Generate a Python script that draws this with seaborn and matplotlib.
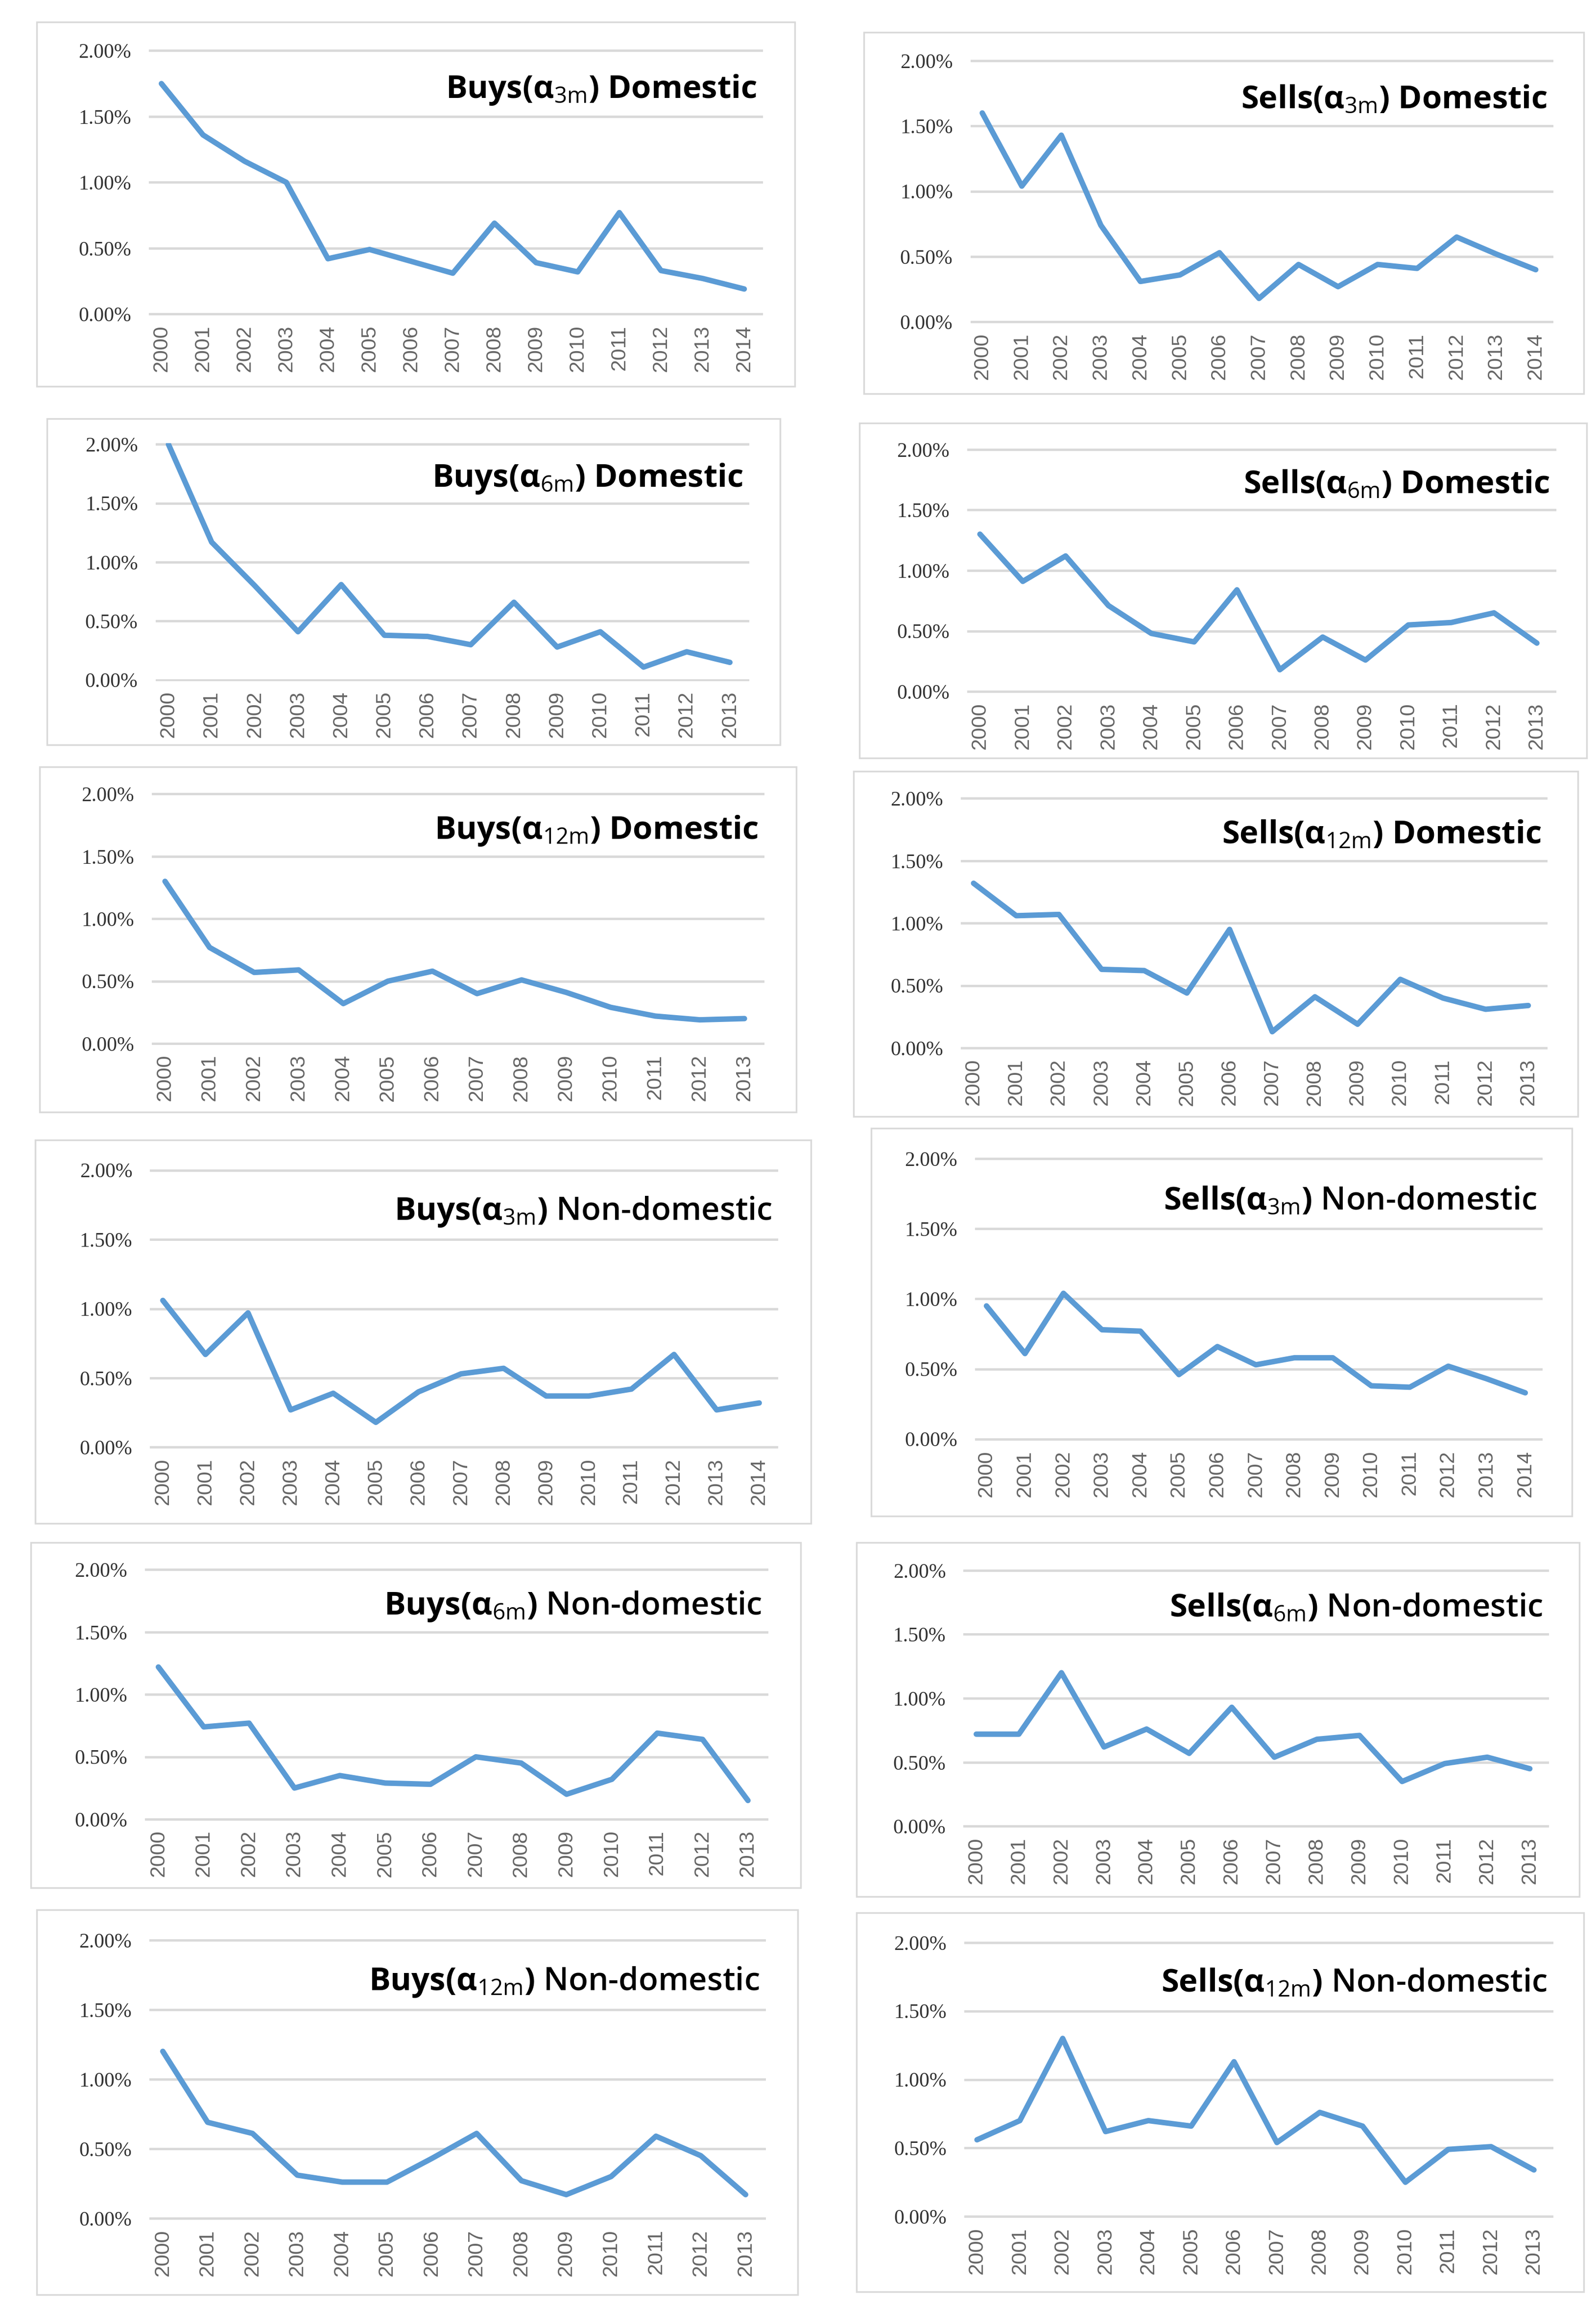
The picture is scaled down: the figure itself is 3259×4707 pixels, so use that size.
import matplotlib
matplotlib.use('Agg')
import matplotlib.pyplot as plt
from matplotlib.patches import Rectangle
from matplotlib.ticker import FuncFormatter
import seaborn as sns

# x categories
years_15 = ['2000', '2001', '2002', '2003', '2004', '2005', '2006', '2007',
            '2008', '2009', '2010', '2011', '2012', '2013', '2014']
years_14 = ['2000', '2001', '2002', '2003', '2004', '2005', '2006', '2007',
            '2008', '2009', '2010', '2011', '2012', '2013']

# series values (%)
buys_3m_dom = [1.75, 1.36, 1.16, 1.00, 0.42, 0.49, 0.40, 0.31, 0.69, 0.39, 0.32, 0.77, 0.33, 0.27, 0.19]
sells_3m_dom = [1.60, 1.04, 1.43, 0.74, 0.31, 0.36, 0.53, 0.18, 0.44, 0.27, 0.44, 0.41, 0.65, 0.52, 0.40]
buys_6m_dom = [2.00, 1.17, 0.80, 0.41, 0.81, 0.38, 0.37, 0.30, 0.66, 0.28, 0.41, 0.11, 0.24, 0.15]
sells_6m_dom = [1.30, 0.91, 1.12, 0.71, 0.48, 0.41, 0.84, 0.18, 0.45, 0.26, 0.55, 0.57, 0.65, 0.40]
buys_12m_dom = [1.30, 0.77, 0.57, 0.59, 0.32, 0.50, 0.58, 0.40, 0.51, 0.41, 0.29, 0.22, 0.19, 0.20]
sells_12m_dom = [1.32, 1.06, 1.07, 0.63, 0.62, 0.44, 0.95, 0.13, 0.41, 0.19, 0.55, 0.40, 0.31, 0.34]
buys_3m_nondom = [1.06, 0.67, 0.97, 0.27, 0.39, 0.18, 0.40, 0.53, 0.57, 0.37, 0.37, 0.42, 0.67, 0.27, 0.32]
sells_3m_nondom = [0.95, 0.61, 1.04, 0.78, 0.77, 0.46, 0.66, 0.53, 0.58, 0.58, 0.38, 0.37, 0.52, 0.43, 0.33]
buys_6m_nondom = [1.22, 0.74, 0.77, 0.25, 0.35, 0.29, 0.28, 0.50, 0.45, 0.20, 0.32, 0.69, 0.64, 0.15]
sells_6m_nondom = [0.72, 0.72, 1.20, 0.62, 0.76, 0.57, 0.93, 0.54, 0.68, 0.71, 0.35, 0.49, 0.54, 0.45]
buys_12m_nondom = [1.20, 0.69, 0.61, 0.31, 0.26, 0.26, 0.43, 0.61, 0.27, 0.17, 0.30, 0.59, 0.45, 0.17]
sells_12m_nondom = [0.56, 0.70, 1.30, 0.62, 0.70, 0.66, 1.13, 0.54, 0.76, 0.66, 0.25, 0.49, 0.51, 0.34]

y_ticks = [0.0, 0.5, 1.0, 1.5, 2.0]

# (side, horizon, kind, years, values)
panels = [
    ('Buys', '3m', 'Domestic', years_15, buys_3m_dom),
    ('Sells', '3m', 'Domestic', years_15, sells_3m_dom),
    ('Buys', '6m', 'Domestic', years_14, buys_6m_dom),
    ('Sells', '6m', 'Domestic', years_14, sells_6m_dom),
    ('Buys', '12m', 'Domestic', years_14, buys_12m_dom),
    ('Sells', '12m', 'Domestic', years_14, sells_12m_dom),
    ('Buys', '3m', 'Non-domestic', years_15, buys_3m_nondom),
    ('Sells', '3m', 'Non-domestic', years_15, sells_3m_nondom),
    ('Buys', '6m', 'Non-domestic', years_14, buys_6m_nondom),
    ('Sells', '6m', 'Non-domestic', years_14, sells_6m_nondom),
    ('Buys', '12m', 'Non-domestic', years_14, buys_12m_nondom),
    ('Sells', '12m', 'Non-domestic', years_14, sells_12m_nondom),
]

# panel frames in pixels (x0, y0, x1, y1), origin top-left
boxes = [
    (75, 45, 1623, 789), (1764, 66, 3234, 804),
    (96, 855, 1593, 1521), (1755, 864, 3240, 1548),
    (81, 1566, 1626, 2271), (1743, 1575, 3222, 2280),
    (72, 2328, 1656, 3111), (1779, 2304, 3210, 3096),
    (63, 3150, 1635, 3855), (1749, 3150, 3225, 3873),
    (75, 3900, 1629, 4686), (1749, 3906, 3234, 4680),
]

W, H = 3259, 4707

sns.set_theme(style='white')
plt.rcParams['font.family'] = ['Open Sans', 'DejaVu Sans']
plt.rcParams['mathtext.fontset'] = 'custom'
plt.rcParams['mathtext.rm'] = 'Open Sans'
plt.rcParams['mathtext.bf'] = 'Open Sans:bold'
plt.rcParams['mathtext.it'] = 'Open Sans:italic'

fig = plt.figure(figsize=(W / 100, H / 100), dpi=100)
fig.patch.set_facecolor('white')

line_color = '#5b9bd5'
grid_color = '#d9d9d9'

for (side, horizon, kind, years, values), (x0, y0, x1, y1) in zip(panels, boxes):
    bw, bh = x1 - x0, y1 - y0
    fig.add_artist(Rectangle((x0 / W, 1 - y1 / H), bw / W, bh / H,
                             transform=fig.transFigure, fill=False,
                             edgecolor=grid_color, lw=2.5))

    left = (x0 + 0.148 * bw) / W
    right = (x0 + 0.958 * bw) / W
    top = 1 - (y0 + 0.075 * bh) / H
    bottom = 1 - (y0 + 0.805 * bh) / H
    ax = fig.add_axes([left, bottom, right - left, top - bottom])

    sns.lineplot(x=years, y=values, ax=ax, color=line_color, linewidth=8,
                 sort=False, solid_joinstyle='round', solid_capstyle='round')

    n = len(years)
    ax.set_xlim(-0.3, n - 1 + 0.45)
    ax.set_ylim(-0.01, 2.01)
    ax.set_yticks(y_ticks)
    ax.yaxis.set_major_formatter(FuncFormatter(lambda v, p: f'{v:.2f}%'))
    ax.set_xlabel('')
    ax.set_ylabel('')

    ax.grid(axis='y', color=grid_color, lw=3.5)
    ax.grid(axis='x', visible=False)
    ax.set_axisbelow(True)
    sns.despine(ax=ax, left=True, bottom=True)

    ax.tick_params(axis='both', length=0)
    ax.tick_params(axis='y', pad=26)
    ax.tick_params(axis='x', pad=14)
    for lab in ax.get_yticklabels():
        lab.set_fontfamily('Liberation Serif')
        lab.set_fontsize(30)
        lab.set_color('#333333')
    for lab in ax.get_xticklabels():
        lab.set_fontfamily('Liberation Sans')
        lab.set_fontsize(31)
        lab.set_color('#666666')
        lab.set_rotation(90)

    title = r'$\mathbf{' + side + r'(\alpha}_{\mathrm{' + horizon + r'}}\mathbf{)}$ ' + kind
    weight = 'bold' if kind == 'Domestic' else 'semibold'
    ax.text(0.99, 1.64, title, transform=ax.get_yaxis_transform(),
            ha='right', va='baseline', fontsize=47, fontweight=weight,
            color='black')

fig.savefig('out.png', dpi=100, facecolor='white')
